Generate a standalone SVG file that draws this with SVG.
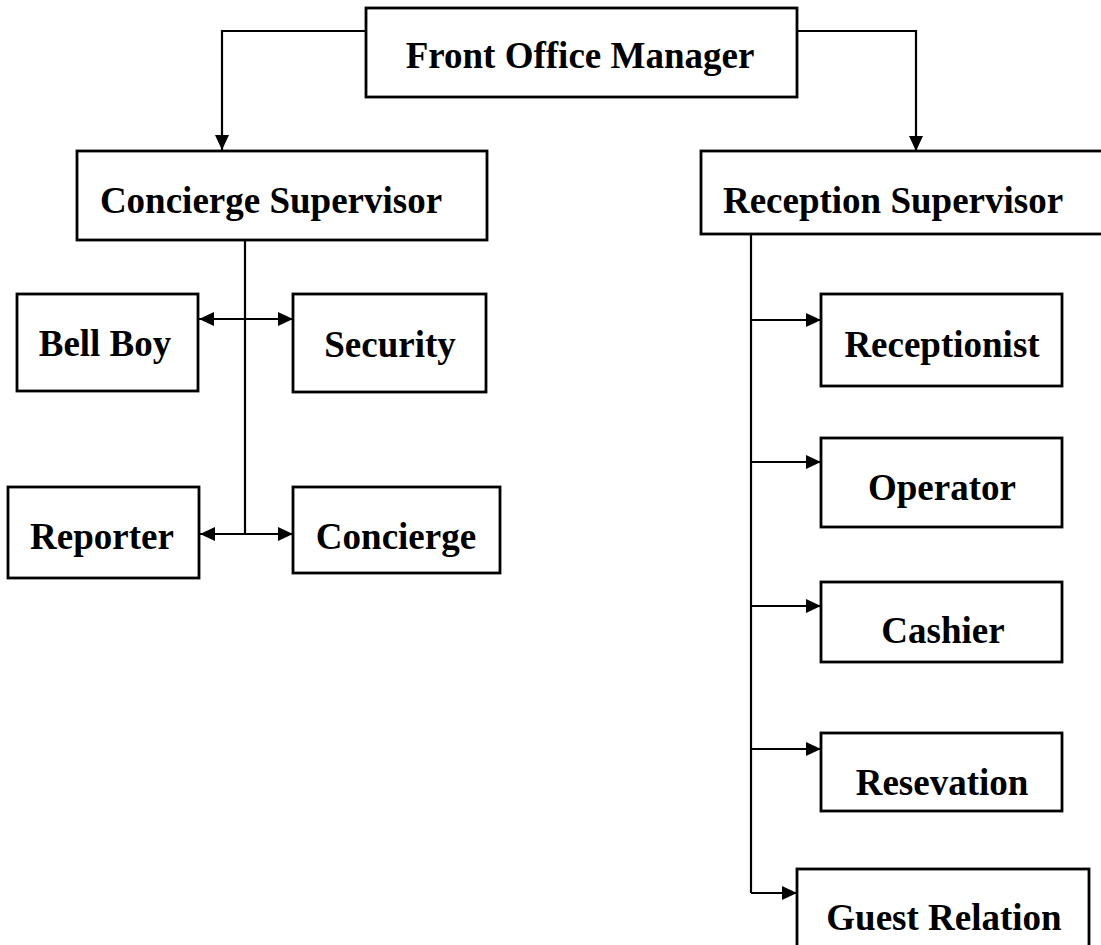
<svg xmlns="http://www.w3.org/2000/svg" width="1101" height="945" viewBox="0 0 1101 945">
<style>
.box{fill:#fff;stroke:#000;stroke-width:2.8}
.lbl{font-family:"Liberation Serif","Times New Roman",serif;font-weight:bold;font-size:37px;fill:#000;text-anchor:middle}
.con{fill:none;stroke:#000;stroke-width:2.2}
</style>
<defs>
<marker id="arr" viewBox="0 0 15 14" refX="15" refY="7" markerWidth="15" markerHeight="14" markerUnits="userSpaceOnUse" orient="auto-start-reverse">
<path d="M0,0 L15,7 L0,14 Z" fill="#000"/>
</marker>
</defs>
<rect width="1101" height="945" fill="#fff"/>
<g id="connectors">
<path class="con" d="M366,31 H222 V150" marker-end="url(#arr)"/>
<path class="con" d="M797,31 H916 V151" marker-end="url(#arr)"/>
<path class="con" d="M245,240 V534"/>
<path class="con" d="M199,319 H293" marker-start="url(#arr)" marker-end="url(#arr)"/>
<path class="con" d="M200,534 H293" marker-start="url(#arr)" marker-end="url(#arr)"/>
<path class="con" d="M751,234 V893"/>
<path class="con" d="M751,320 H821" marker-end="url(#arr)"/>
<path class="con" d="M751,462 H821" marker-end="url(#arr)"/>
<path class="con" d="M751,606 H821" marker-end="url(#arr)"/>
<path class="con" d="M751,749 H821" marker-end="url(#arr)"/>
<path class="con" d="M751,893 H797" marker-end="url(#arr)"/>
</g>
<g id="front-office-manager"><rect class="box" x="366" y="8" width="431" height="89"/><text class="lbl" x="580" y="68">Front Office Manager</text></g>
<g id="concierge-supervisor"><rect class="box" x="77" y="151" width="410" height="89"/><text class="lbl" x="271" y="213">Concierge Supervisor</text></g>
<g id="reception-supervisor"><rect class="box" x="701" y="151" width="410" height="83"/><text class="lbl" x="893" y="213">Reception Supervisor</text></g>
<g id="bell-boy"><rect class="box" x="17" y="294" width="181" height="97"/><text class="lbl" x="105" y="356">Bell Boy</text></g>
<g id="security"><rect class="box" x="293" y="294" width="193" height="98"/><text class="lbl" x="390" y="357">Security</text></g>
<g id="reporter"><rect class="box" x="8" y="487" width="191" height="91"/><text class="lbl" x="102" y="549">Reporter</text></g>
<g id="concierge"><rect class="box" x="293" y="487" width="207" height="86"/><text class="lbl" x="396" y="549">Concierge</text></g>
<g id="receptionist"><rect class="box" x="821" y="294" width="241" height="92"/><text class="lbl" x="942" y="357">Receptionist</text></g>
<g id="operator"><rect class="box" x="821" y="438" width="241" height="89"/><text class="lbl" x="942" y="500">Operator</text></g>
<g id="cashier"><rect class="box" x="821" y="582" width="241" height="80"/><text class="lbl" x="943" y="643">Cashier</text></g>
<g id="resevation"><rect class="box" x="821" y="733" width="241" height="78"/><text class="lbl" x="942" y="795">Resevation</text></g>
<g id="guest-relation"><rect class="box" x="797" y="869" width="292" height="100"/><text class="lbl" x="944" y="930">Guest Relation</text></g>
</svg>
